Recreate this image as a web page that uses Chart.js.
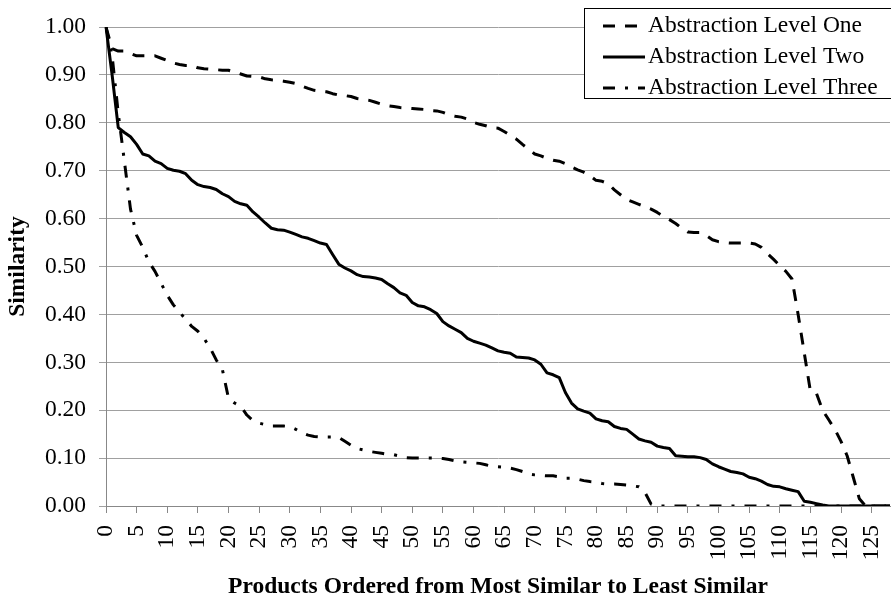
<!DOCTYPE html>
<html>
<head>
<meta charset="utf-8">
<script src="https://cdn.jsdelivr.net/npm/chart.js@4.4.0/dist/chart.umd.min.js"></script>
<style>
  html, body { margin: 0; padding: 0; background: #fff; }
</style>
</head>
<body>
<canvas id="myChart" width="891" height="601"></canvas>
<script>
var ctx = document.getElementById('myChart').getContext('2d');

// products 0..128, a label shown every 5th
var products = [0,1,2,3,4,5,6,7,8,9,10,11,12,13,14,15,16,17,18,19,20,21,22,23,24,25,26,27,28,29,
  30,31,32,33,34,35,36,37,38,39,40,41,42,43,44,45,46,47,48,49,50,51,52,53,54,55,56,57,58,59,
  60,61,62,63,64,65,66,67,68,69,70,71,72,73,74,75,76,77,78,79,80,81,82,83,84,85,86,87,88,89,
  90,91,92,93,94,95,96,97,98,99,100,101,102,103,104,105,106,107,108,109,110,111,112,113,114,
  115,116,117,118,119,120,121,122,123,124,125,126,127,128];

var levelOne = [1.00,0.955,0.95,0.95,0.945,0.94,0.94,0.94,0.94,0.935,
  0.93,0.925,0.922,0.92,0.92,0.915,0.913,0.912,0.911,0.91,
  0.91,0.906,0.902,0.898,0.897,0.896,0.892,0.89,0.889,0.887,
  0.885,0.882,0.877,0.872,0.868,0.866,0.865,0.861,0.858,0.857,
  0.855,0.851,0.849,0.847,0.843,0.839,0.836,0.834,0.832,0.831,
  0.830,0.829,0.828,0.826,0.825,0.822,0.817,0.814,0.812,0.808,
  0.801,0.797,0.794,0.790,0.789,0.782,0.774,0.766,0.755,0.745,
  0.735,0.731,0.726,0.722,0.720,0.715,0.708,0.702,0.697,0.690,
  0.680,0.678,0.673,0.660,0.650,0.640,0.635,0.630,0.625,0.620,
  0.613,0.605,0.598,0.590,0.580,0.572,0.571,0.571,0.565,0.556,
  0.552,0.550,0.549,0.549,0.549,0.549,0.547,0.540,0.527,0.515,
  0.502,0.490,0.474,0.400,0.320,0.240,0.235,0.200,0.180,0.160,
  0.135,0.105,0.060,0.015,0,0,0,0,0];

var levelTwo = [1.00,0.90,0.79,0.78,0.771,0.755,0.735,0.731,0.72,0.715,
  0.705,0.701,0.699,0.694,0.68,0.671,0.667,0.665,0.661,0.652,
  0.646,0.636,0.631,0.628,0.614,0.603,0.591,0.58,0.577,0.576,
  0.572,0.567,0.562,0.559,0.554,0.549,0.546,0.525,0.505,0.497,
  0.491,0.483,0.479,0.478,0.476,0.473,0.464,0.456,0.445,0.44,
  0.425,0.418,0.416,0.41,0.402,0.385,0.376,0.369,0.362,0.35,
  0.344,0.340,0.336,0.330,0.324,0.321,0.319,0.311,0.31,0.309,
  0.305,0.296,0.278,0.274,0.268,0.237,0.215,0.203,0.198,0.194,
  0.182,0.178,0.176,0.166,0.162,0.16,0.15,0.14,0.136,0.133,
  0.125,0.122,0.12,0.105,0.104,0.103,0.103,0.101,0.097,0.088,
  0.082,0.077,0.072,0.07,0.067,0.06,0.057,0.052,0.045,0.041,
  0.04,0.036,0.033,0.03,0.01,0.008,0.005,0.002,0,0,
  0,0,0,0,0,0,0,0,0];

var levelThree = [1.00,0.94,0.82,0.72,0.62,0.565,0.54,0.51,0.49,0.465,
  0.44,0.42,0.405,0.39,0.375,0.365,0.35,0.33,0.305,0.285,
  0.225,0.215,0.208,0.19,0.178,0.173,0.17,0.167,0.167,0.167,
  0.166,0.16,0.153,0.148,0.145,0.144,0.144,0.144,0.143,0.135,
  0.127,0.12,0.117,0.114,0.112,0.11,0.108,0.107,0.104,0.101,
  0.10,0.10,0.10,0.10,0.10,0.099,0.097,0.094,0.092,0.091,
  0.09,0.089,0.086,0.083,0.082,0.081,0.079,0.076,0.072,0.067,
  0.065,0.064,0.063,0.063,0.061,0.058,0.058,0.056,0.053,0.051,
  0.05,0.047,0.046,0.046,0.045,0.044,0.042,0.04,0.028,0.004,
  0,0,0,0,0,0,0,0,0,0,
  0,0,0,0,0,0,0,0,0,0,
  0,0,0,0,0,0,0,0,0,0,
  0,0,0,0,0,0,0,0,0];

var serif = '"Liberation Serif", "Times New Roman", serif';
Chart.defaults.font.family = serif;
Chart.defaults.font.size = 23.5;
Chart.defaults.color = '#000';

// legend drawn by hand: bordered box in the top right corner
var legendBox = {
  id: 'legendBox',
  afterDraw: function(chart) {
    var c = chart.ctx;
    c.save();
    c.fillStyle = '#fff';
    c.fillRect(584.5, 8.5, 320, 90);
    c.strokeStyle = '#000';
    c.lineWidth = 1;
    c.strokeRect(584.5, 8.5, 320, 90);
    chart.data.datasets.forEach(function(ds, k) {
      var y = 26 + k * 31;
      c.setLineDash(ds.borderDash || []);
      c.lineWidth = 3;
      c.beginPath();
      c.moveTo(603, y);
      c.lineTo(645, y);
      c.stroke();
      c.setLineDash([]);
      c.fillStyle = '#000';
      c.font = '23.5px ' + serif;
      c.textBaseline = 'middle';
      c.fillText(ds.label, 648, y);
    });
    c.restore();
  }
};

var chart = new Chart(ctx, {
  type: 'line',
  data: {
    labels: products,
    datasets: [{
      label: 'Abstraction Level One',
      data: levelOne,
      borderColor: '#000',
      borderDash: [12, 10]
    }, {
      label: 'Abstraction Level Two',
      data: levelTwo,
      borderColor: '#000'
    }, {
      label: 'Abstraction Level Three',
      data: levelThree,
      borderColor: '#000',
      borderDash: [12, 10, 3, 10]
    }]
  },
  options: {
    responsive: false,
    animation: false,
    layout: { padding: { top: 26, right: 1, left: 0, bottom: 0 } },
    plugins: {
      legend: { display: false },
      tooltip: { enabled: false }
    },
    elements: {
      point: { radius: 0 },
      line: { tension: 0, borderWidth: 3, borderJoinStyle: 'round', fill: false }
    },
    scales: {
      x: {
        type: 'category',
        offset: false,
        grid: {
          drawOnChartArea: false,
          tickLength: 7,
          color: function(c) { return c.index % 5 === 0 ? '#888' : 'rgba(0,0,0,0)'; }
        },
        border: { color: '#888' },
        ticks: {
          autoSkip: false,
          minRotation: 90,
          maxRotation: 90,
          padding: 12,
          callback: function(v, i) { return i % 5 === 0 ? this.getLabelForValue(v) : ''; }
        },
        title: {
          display: true,
          text: 'Products Ordered from Most Similar to Least Similar',
          font: { weight: 'bold' },
          padding: 0
        },
        afterFit: function(s) {
          s.height = 95;
          s.paddingLeft = 0;
          s.paddingRight = 0;
        }
      },
      y: {
        min: 0,
        max: 1,
        grid: { color: '#a0a0a0', tickLength: 7 },
        border: { color: '#888' },
        ticks: {
          stepSize: 0.1,
          padding: 13,
          callback: function(v) { return v.toFixed(2); }
        },
        title: {
          display: true,
          text: 'Similarity',
          font: { weight: 'bold' },
          padding: { top: 4, bottom: 0 }
        },
        afterFit: function(s) { s.width = 106; }
      }
    }
  },
  plugins: [legendBox]
});
</script>
</body>
</html>
